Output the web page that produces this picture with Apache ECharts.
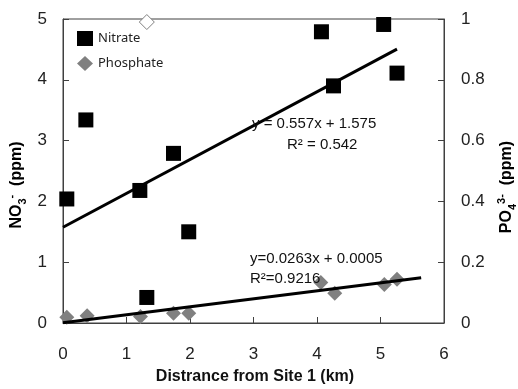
<!DOCTYPE html>
<html>
<head>
<meta charset="utf-8">
<script src="https://cdn.jsdelivr.net/npm/echarts@6/dist/echarts.min.js"></script>
<style>
  html, body { margin: 0; padding: 0; background: #fff; }
  #chart { width: 518px; height: 389px; }
</style>
</head>
<body>
<div id="chart"></div>
<script>
// distance from site 1 (km) and measured values
const nitrateX = [0.06, 0.36, 1.21, 1.74, 1.98, 1.32, 4.07, 5.05, 4.26, 5.26];
const nitrateY = [2.04, 3.34, 2.18, 2.79, 1.50, 0.42, 4.79, 4.91, 3.90, 4.11];
const phosphateX = [0.06, 0.38, 1.22, 1.74, 1.98, 4.06, 4.28, 5.06, 5.26];
const phosphateY = [0.019, 0.024, 0.021, 0.032, 0.032, 0.133, 0.098, 0.127, 0.144];
const outlierX = [1.32];
const outlierY = [0.99];
// trendline end points
const nitrateTrend = [[0, 1.575], [5.26, 4.505]];
const phosphateTrend = [[0, 0.0005], [5.64, 0.149]];
const xTicks = [0, 1, 2, 3, 4, 5, 6];

const font = "Liberation Sans, Arial, sans-serif";
const axisColor = "#404040";

const zip = (xs, ys) => xs.map((x, i) => [x, ys[i]]);

// bold title with sub / superscripts
const titleRich = {
  b: { fontFamily: font, fontSize: 16, fontWeight: "bold", color: "#111", lineHeight: 22, verticalAlign: "middle" },
  sub: { fontFamily: font, fontSize: 11, fontWeight: "bold", color: "#111", lineHeight: 22, verticalAlign: "bottom" },
  sup: { fontFamily: font, fontSize: 11, fontWeight: "bold", color: "#111", lineHeight: 22, verticalAlign: "top" }
};

const chart = echarts.init(document.getElementById("chart"), null, { renderer: "canvas" });

chart.setOption({
  animation: false,
  backgroundColor: "#fff",
  grid: {
    left: 63, right: 74, top: 19, bottom: 66,
    show: true, borderColor: axisColor, borderWidth: 1, backgroundColor: "transparent"
  },
  legend: {
    orient: "vertical",
    left: 72, top: 26,
    itemWidth: 16, itemHeight: 15, itemGap: 10,
    textStyle: { fontFamily: "Noto Sans, sans-serif", fontSize: 13, color: "#222" },
    data: [
      { name: "Nitrate", icon: "rect", itemStyle: { color: "#000", opacity: 1 } },
      { name: "Phosphate", icon: "diamond", itemStyle: { color: "#808080", opacity: 1 } }
    ]
  },
  xAxis: {
    type: "value",
    min: xTicks[0], max: xTicks[xTicks.length - 1], interval: 1,
    axisLine: { lineStyle: { color: axisColor } },
    axisTick: { inside: true, length: 6, lineStyle: { color: axisColor } },
    axisLabel: { fontFamily: font, fontSize: 17, color: "#222", margin: 23 },
    splitLine: { show: false }
  },
  yAxis: [
    {
      type: "value", min: 0, max: 5, interval: 1,
      axisLine: { show: true, lineStyle: { color: axisColor } },
      axisTick: { show: true, inside: true, length: 6, lineStyle: { color: axisColor } },
      axisLabel: { fontFamily: font, fontSize: 17, color: "#222", margin: 16 },
      splitLine: { show: false }
    },
    {
      type: "value", min: 0, max: 1, interval: 0.2, position: "right",
      axisLine: { show: true, lineStyle: { color: axisColor } },
      axisTick: { show: true, inside: true, length: 6, lineStyle: { color: axisColor } },
      axisLabel: { fontFamily: font, fontSize: 17, color: "#222", margin: 17 },
      splitLine: { show: false }
    }
  ],
  series: [
    {
      name: "Nitrate", type: "scatter", yAxisIndex: 0,
      symbol: "rect", symbolSize: [15, 15],
      itemStyle: { color: "#000", opacity: 1 },
      data: zip(nitrateX, nitrateY), z: 3
    },
    {
      name: "Phosphate", type: "scatter", yAxisIndex: 1,
      symbol: "diamond", symbolSize: 15,
      itemStyle: { color: "#808080", opacity: 1 },
      data: zip(phosphateX, phosphateY), z: 2
    },
    {
      name: "outlier", type: "scatter", yAxisIndex: 1,
      symbol: "diamond", symbolSize: 15, clip: false,
      itemStyle: { color: "#fff", borderColor: "#808080", borderWidth: 1, opacity: 1 },
      data: zip(outlierX, outlierY), z: 2
    },
    {
      type: "line", yAxisIndex: 0, symbol: "none",
      lineStyle: { color: "#000", width: 3 },
      data: nitrateTrend, z: 4
    },
    {
      type: "line", yAxisIndex: 1, symbol: "none",
      lineStyle: { color: "#000", width: 3 },
      data: phosphateTrend, z: 4
    }
  ],
  graphic: [
    { type: "text", left: 252, top: 116, z: 10,
      style: { text: "y = 0.557x + 1.575", fontFamily: font, fontSize: 15, fill: "#111" } },
    { type: "text", left: 287, top: 137, z: 10,
      style: { text: "R² = 0.542", fontFamily: font, fontSize: 15, fill: "#111" } },
    { type: "text", left: 250, top: 251, z: 10,
      style: { text: "y=0.0263x + 0.0005", fontFamily: font, fontSize: 15, fill: "#111" } },
    { type: "text", left: 250, top: 271, z: 10,
      style: { text: "R²=0.9216", fontFamily: font, fontSize: 15, fill: "#111" } },
    { type: "text", x: 255, y: 377, z: 10,
      style: { text: "Distrance from Site 1 (km)", fontFamily: font, fontSize: 16, fontWeight: "bold",
               fill: "#111", align: "center", verticalAlign: "middle" } },
    { type: "text", x: 17, y: 185, rotation: Math.PI / 2, z: 10,
      style: { text: "{b|NO}{sub|3}{sup|-}{b|  (ppm)}", rich: titleRich,
               align: "center", verticalAlign: "middle" } },
    { type: "text", x: 507, y: 187, rotation: Math.PI / 2, z: 10,
      style: { text: "{b|PO}{sub|4}{sup|3-}{b|  (ppm)}", rich: titleRich,
               align: "center", verticalAlign: "middle" } }
  ]
});
</script>
</body>
</html>
